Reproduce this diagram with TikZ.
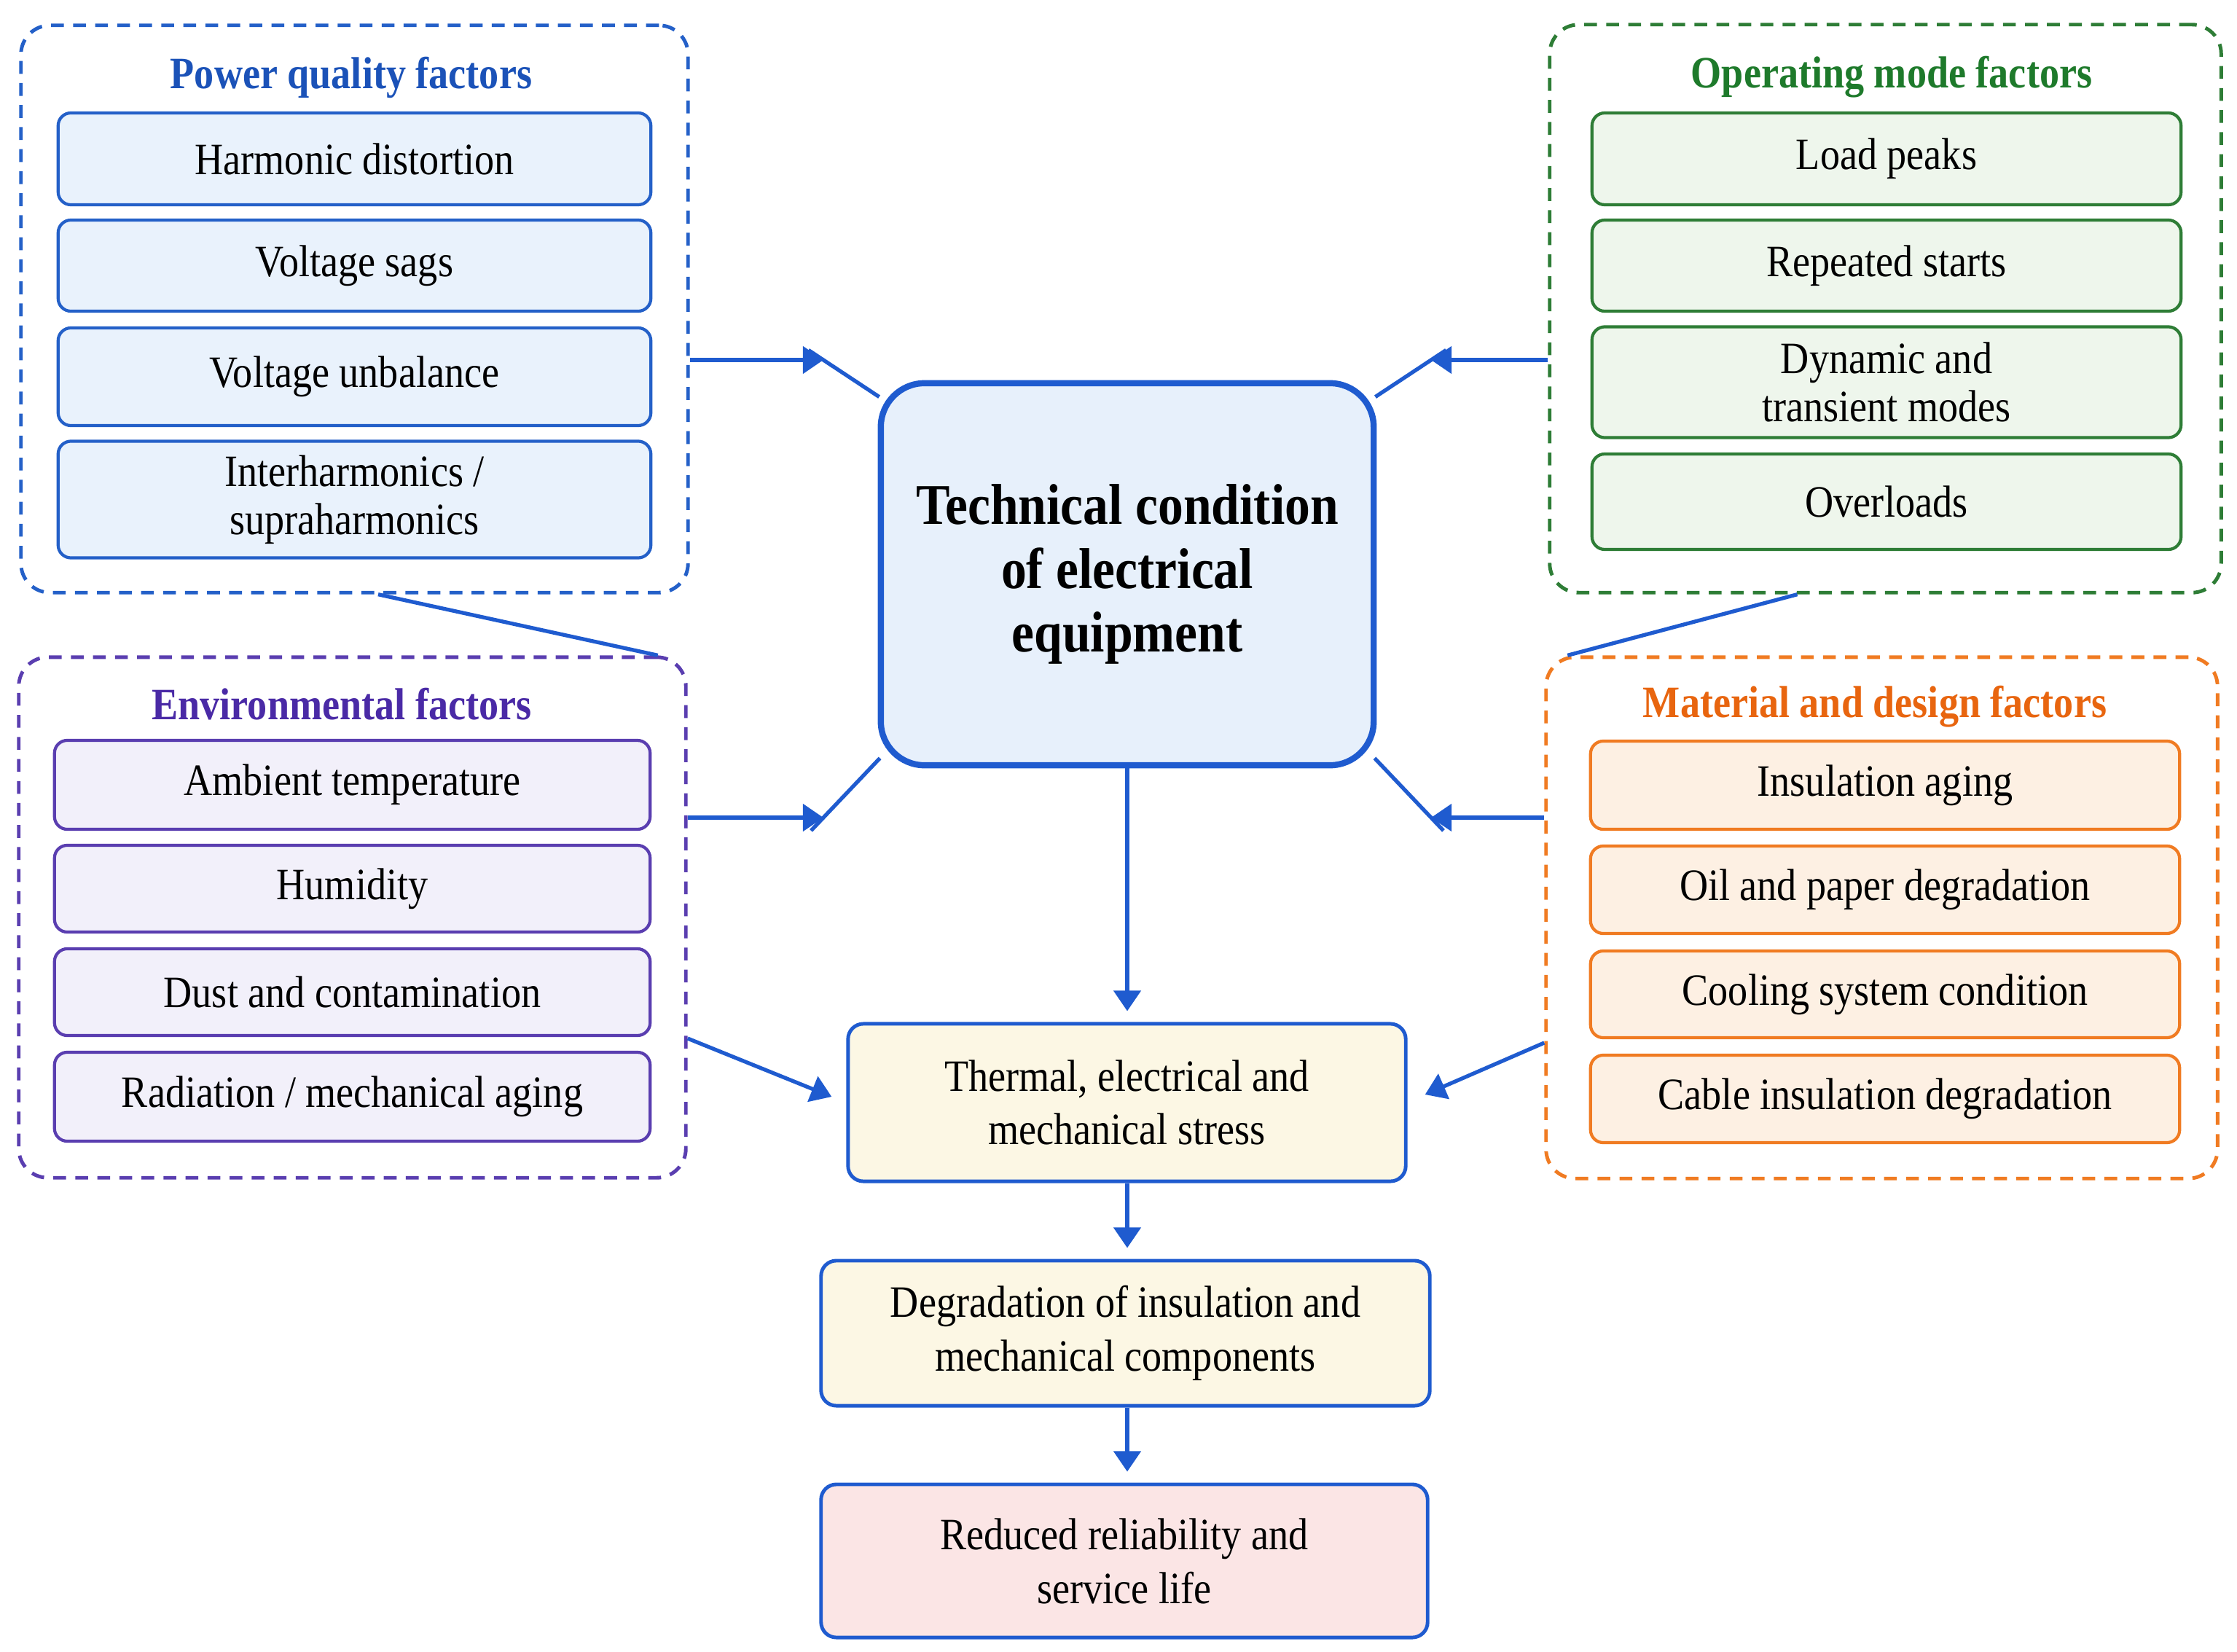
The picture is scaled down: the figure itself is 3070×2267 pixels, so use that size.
\documentclass[tikz,border=0pt]{standalone}
\usepackage{fontspec}
\setmainfont{Liberation Serif}[FakeStretch=0.88]
\usetikzlibrary{arrows.meta,calc}

\definecolor{cblue}{HTML}{1F5BCF}
\definecolor{pqborder}{HTML}{2460C8}
\definecolor{pqfill}{HTML}{E9F2FC}
\definecolor{pqtitle}{HTML}{1B52B8}
\definecolor{ogreen}{HTML}{2E7D36}
\definecolor{ofill}{HTML}{EEF6EC}
\definecolor{otitle}{HTML}{1E7A2B}
\definecolor{epurple}{HTML}{5A3EB0}
\definecolor{efill}{HTML}{F2F0FA}
\definecolor{etitle}{HTML}{4A2AA6}
\definecolor{morange}{HTML}{F07B22}
\definecolor{mfill}{HTML}{FDF0E3}
\definecolor{mtitle}{HTML}{E8650F}
\definecolor{cfill}{HTML}{E7F0FB}
\definecolor{yfill}{HTML}{FCF7E4}
\definecolor{rfill}{HTML}{FBE5E5}

\tikzset{
  grp/.style={draw, line width=1.4pt, dash pattern=on 5pt off 3.6pt, rounded corners=0.4cm, inner sep=0pt},
  ttl/.style={font=\bfseries\fontsize{17.5}{20}\selectfont, inner sep=0pt},
  item/.style={draw, line width=1.2pt, rounded corners=5pt, align=center, inner sep=0pt,
    font=\fontsize{17.5}{18.8}\selectfont},
  pqitem/.style={item, draw=pqborder, fill=pqfill, minimum width=8.13cm},
  enitem/.style={item, draw=epurple, fill=efill, minimum width=8.17cm},
  opitem/.style={item, draw=ogreen, fill=ofill, minimum width=8.08cm},
  mtitem/.style={item, draw=morange, fill=mfill, minimum width=8.08cm},
  flowbox/.style={draw=cblue, line width=1.4pt, rounded corners=6pt, align=center, inner sep=0pt,
    font=\fontsize{17.5}{21}\selectfont},
  ctrbox/.style={draw=cblue, line width=2.4pt, rounded corners=0.6cm, fill=cfill, align=center,
    inner sep=0pt, font=\bfseries\fontsize{22.5}{25}\selectfont},
  conn/.style={draw=cblue, line width=1.5pt},
  arr/.style={conn, -{Triangle[length=8pt,width=10.5pt]}},
}

\begin{document}
\begin{tikzpicture}[x=0.01cm,y=-0.01cm]
\path[use as bounding box, fill=white] (0,0) rectangle (3070,2267);

% ---------- groups ----------
\node[grp, draw=pqborder, minimum width=9.15cm, minimum height=7.78cm] (pq) at (486.5,424) {};
\node[grp, draw=epurple, minimum width=9.15cm, minimum height=7.14cm] (env) at (483.5,1259) {};
\node[grp, draw=ogreen, minimum width=9.21cm, minimum height=7.79cm] (op) at (2587.5,423.5) {};
\node[grp, draw=morange, minimum width=9.21cm, minimum height=7.15cm] (mat) at (2582.5,1259.5) {};

% titles
\node[ttl, text=pqtitle] (pqt) at (482,106) {Power quality factors};
\node[ttl, text=etitle] (ent) at (469,966) {Environmental factors};
\node[ttl, text=otitle] (opt) at (2596,106) {Operating mode factors};
\node[ttl, text=mtitle] (mtt) at (2573,970) {Material and design factors};

% power quality items
\node[pqitem, minimum height=1.26cm] (pq1) at (486.5,218) {Harmonic distortion};
\node[pqitem, minimum height=1.25cm] (pq2) at (486.5,364.5) {Voltage sags};
\node[pqitem, minimum height=1.34cm] (pq3) at (486.5,517) {Voltage unbalance};
\node[pqitem, minimum height=1.60cm] (pq4) at (486.5,685.5) {Interharmonics /\\supraharmonics};

% environmental items
\node[enitem, minimum height=1.22cm] (en1) at (483.5,1077) {Ambient temperature};
\node[enitem, minimum height=1.19cm] (en2) at (483.5,1219.5) {Humidity};
\node[enitem, minimum height=1.19cm] (en3) at (483.5,1361.5) {Dust and contamination};
\node[enitem, minimum height=1.22cm] (en4) at (483.5,1505) {Radiation / mechanical aging};

% operating mode items
\node[opitem, minimum height=1.26cm] (op1) at (2589,218) {Load peaks};
\node[opitem, minimum height=1.25cm] (op2) at (2589,364.5) {Repeated starts};
\node[opitem, minimum height=1.52cm] (op3) at (2589,524.5) {Dynamic and\\transient modes};
\node[opitem, minimum height=1.31cm] (op4) at (2589,688.5) {Overloads};

% material items
\node[mtitem, minimum height=1.21cm] (mt1) at (2587,1077.5) {Insulation aging};
\node[mtitem, minimum height=1.20cm] (mt2) at (2587,1221) {Oil and paper degradation};
\node[mtitem, minimum height=1.19cm] (mt3) at (2587,1364.5) {Cooling system condition};
\node[mtitem, minimum height=1.20cm] (mt4) at (2587,1508) {Cable insulation degradation};

% ---------- central chain ----------
\node[ctrbox, minimum width=6.76cm, minimum height=5.24cm] (ctr) at (1547,788)
  {Technical condition\\of electrical\\equipment};
\node[flowbox, fill=yfill, minimum width=7.65cm, minimum height=2.16cm] (th) at (1546.5,1513)
  {Thermal, electrical and\\mechanical stress};
\node[flowbox, fill=yfill, minimum width=8.35cm, minimum height=1.99cm] (dg) at (1544.5,1829.5)
  {Degradation of insulation and\\mechanical components};
\node[flowbox, fill=rfill, minimum width=8.32cm, minimum height=2.10cm] (rd) at (1543,2142)
  {Reduced reliability and\\service life};

% ---------- connectors ----------
\coordinate (bTL) at (1130,494);
\coordinate (bTR) at (1964,494);
\coordinate (bBL) at (1130,1122);
\coordinate (bBR) at (1964,1122);
\coordinate (cTL) at ($(ctr.north west)+(2,23)$);
\coordinate (cTR) at ($(ctr.north east)+(-2,23)$);
\coordinate (cBL) at ($(ctr.south west)+(3,-14)$);
\coordinate (cBR) at ($(ctr.south east)+(-3,-14)$);

\draw[arr] (pq.east |- bTL) -- (bTL);
\draw[conn] ($(bTL)!-7pt!(cTL)$) -- (cTL);
\draw[arr] (op.west |- bTR) -- (bTR);
\draw[conn] ($(bTR)!-7pt!(cTR)$) -- (cTR);
\draw[arr] (env.east |- bBL) -- (bBL);
\draw[conn] ($(bBL)!-7pt!(cBL)$) -- (cBL);
\draw[arr] (mat.west |- bBR) -- (bBR);
\draw[conn] ($(bBR)!-7pt!(cBR)$) -- (cBR);

% group links
\draw[conn] ($(pq.south)+(32.5,0)$) -- ($(env.north east)+(-41,0)$);
\draw[conn] ($(op.south)+(-121,0)$) -- ($(mat.north west)+(32,0)$);

% side inputs to stress box
\coordinate (eS) at (0,1425);
\coordinate (mS) at (0,1431);
\draw[arr] (env.east |- eS) -- ($(th.west)+(-20,-8)$);
\draw[arr] (mat.west |- mS) -- ($(th.east)+(24,-11)$);

% vertical chain
\draw[arr, shorten >=0.15cm] (ctr.south) -- (ctr.south |- th.north);
\draw[arr, shorten >=0.15cm] (ctr.south |- th.south) -- (ctr.south |- dg.north);
\draw[arr, shorten >=0.15cm] (ctr.south |- dg.south) -- (ctr.south |- rd.north);
\end{tikzpicture}
\end{document}
